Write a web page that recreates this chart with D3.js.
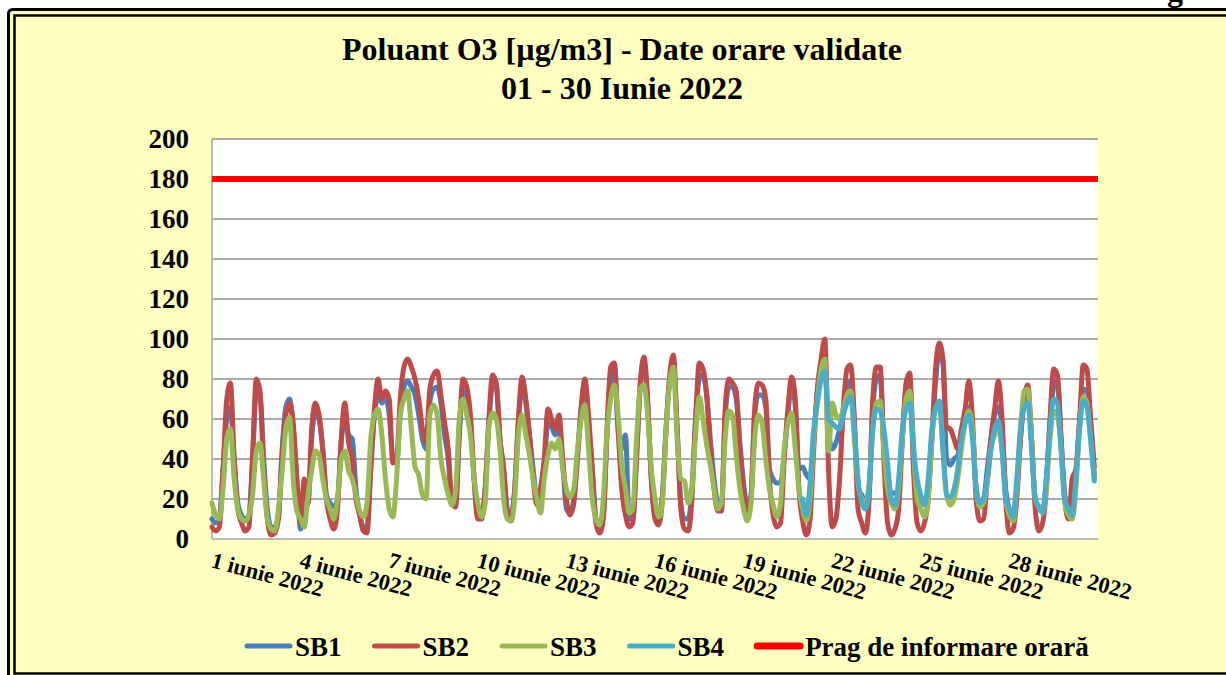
<!DOCTYPE html>
<html>
<head>
<meta charset="UTF-8">
<title>Poluant O3 - Iunie 2022</title>
<script src="https://cdn.jsdelivr.net/npm/d3@7" type="text/javascript" charset="utf-8"></script>
<style>
  body { margin: 0; background: #fff; }
  text { font-family: "Liberation Serif", "Times New Roman", serif; font-weight: bold; }
</style>
</head>
<body>
<div id="chart"></div>
<script type="text/javascript">
// ---- data (one value every 3 hours, 8 per day: 00,03,...,21) ----
var monthStart = Date.UTC(2022, 5, 1);
var monthEnd = Date.UTC(2022, 6, 1);
var stepHours = 3;

var sb1 = [
  10, 8, 10, 35, 60, 66, 40, 18,   12, 10, 12, 40, 74, 72, 40, 15,   6, 6, 12, 45, 66, 70, 55, 28,
  5, 15, 18, 50, 64, 60, 45, 22,   18, 16, 20, 48, 62, 52, 50, 25,   12, 6, 6, 35, 62, 72, 68, 70,
  62, 40, 38, 62, 76, 79, 76, 72,  62, 50, 45, 68, 75, 76, 68, 52,   40, 18, 18, 52, 74, 72, 58, 30,
  12, 12, 25, 58, 76, 76, 50, 35,  15, 12, 25, 58, 76, 68, 52, 35,   20, 25, 38, 58, 56, 52, 56, 38,
  15, 13, 20, 42, 66, 78, 58, 35,  10, 6, 12, 52, 80, 86, 55, 45,    52, 10, 10, 42, 76, 88, 68, 30,
  12, 10, 22, 55, 80, 86, 55, 18,  10, 10, 25, 60, 80, 82, 72, 50,   30, 18, 16, 60, 76, 76, 70, 48,
  28, 16, 22, 62, 72, 72, 66, 35,  30, 28, 28, 42, 62, 78, 66, 35,   36, 32, 30, 50, 75, 88, 92, 55,
  45, 48, 55, 65, 76, 79, 58, 25,  22, 18, 25, 65, 80, 82, 45, 25,   23, 23, 25, 50, 74, 78, 48, 20,
  18, 18, 25, 50, 78, 94, 88, 40,  37, 40, 42, 50, 60, 66, 55, 25,   18, 20, 35, 50, 62, 66, 55, 25,
  15, 12, 25, 50, 68, 72, 50, 20,  16, 14, 30, 58, 76, 79, 50, 22,   14, 14, 30, 58, 75, 74, 58, 32
];
var sb2 = [
  6, 4, 6, 35, 70, 78, 40, 15,     8, 4, 6, 42, 80, 74, 35, 10,     2, 3, 10, 42, 62, 68, 58, 30,
  8, 30, 18, 55, 68, 62, 45, 20,   10, 5, 15, 50, 68, 48, 40, 20,   12, 4, 3, 35, 65, 80, 70, 74,
  70, 38, 40, 70, 86, 90, 86, 80,  70, 55, 48, 75, 82, 84, 72, 58,  45, 18, 16, 55, 80, 76, 62, 30,
  10, 10, 25, 60, 82, 78, 50, 35,  12, 9, 25, 60, 81, 70, 52, 30,   17, 25, 40, 65, 60, 55, 62, 40,
  20, 12, 18, 40, 65, 80, 62, 35,  8, 3, 10, 55, 86, 88, 55, 25,    12, 6, 8, 40, 78, 91, 70, 30,
  10, 7, 20, 55, 82, 92, 55, 15,   5, 4, 20, 60, 88, 85, 72, 45,    25, 14, 14, 65, 80, 78, 74, 45,
  25, 12, 20, 65, 78, 77, 70, 30,  12, 6, 8, 40, 65, 81, 70, 25,    9, 2, 10, 45, 75, 90, 100, 35,
  6, 10, 30, 65, 85, 87, 60, 15,   8, 3, 20, 70, 86, 86, 40, 8,     2, 5, 15, 50, 78, 83, 35, 8,
  4, 8, 20, 50, 85, 98, 90, 56,    55, 50, 45, 55, 65, 79, 60, 20,  9, 10, 30, 50, 65, 79, 60, 20,
  3, 5, 20, 50, 70, 77, 50, 15,    4, 8, 25, 60, 85, 82, 50, 20,    10, 30, 35, 60, 87, 85, 60, 36
];
var sb3 = [
  18, 12, 10, 25, 50, 55, 30, 15,  10, 9, 12, 22, 44, 48, 30, 10,   5, 4, 15, 34, 55, 61, 30, 14,
  10, 6, 22, 34, 44, 42, 30, 20,   15, 10, 20, 40, 44, 34, 30, 22,  14, 11, 18, 50, 62, 65, 52, 30,
  15, 11, 30, 62, 70, 74, 55, 36,  32, 22, 20, 62, 67, 62, 40, 30,  22, 17, 25, 60, 70, 62, 52, 30,
  18, 11, 18, 56, 63, 60, 45, 20,  10, 9, 20, 52, 62, 52, 42, 30,   20, 13, 30, 42, 48, 45, 50, 35,
  25, 21, 25, 45, 60, 67, 45, 20,  10, 7, 20, 54, 70, 77, 62, 37,   25, 13, 15, 50, 75, 77, 62, 35,
  20, 11, 18, 55, 78, 86, 50, 30,  29, 18, 25, 52, 71, 60, 47, 37,  25, 15, 18, 50, 64, 62, 42, 25,
  15, 9, 18, 50, 62, 58, 40, 25,   17, 11, 18, 45, 58, 63, 45, 25,  15, 9, 20, 50, 70, 85, 90, 44,
  68, 62, 60, 65, 72, 74, 50, 28,  20, 18, 28, 55, 68, 69, 45, 25,  18, 15, 25, 50, 70, 74, 45, 20,
  15, 11, 20, 50, 65, 68, 45, 22,  17, 20, 30, 45, 58, 64, 55, 25,  16, 18, 28, 45, 52, 55, 45, 20,
  12, 9, 25, 55, 74, 75, 50, 20,   16, 13, 25, 50, 64, 62, 45, 18,  12, 10, 25, 55, 71, 68, 50, 30
];
// SB4 has data only from 21 iunie
var sb4Start = Date.UTC(2022, 5, 21);
var sb4 = [
  20, 12, 28, 55, 68, 80, 84, 60,  58, 56, 55, 62, 68, 71, 55, 30,  18, 15, 25, 55, 65, 64, 55, 38,
  20, 17, 30, 55, 65, 68, 45, 30,  22, 17, 30, 55, 65, 69, 45, 22,  21, 25, 35, 50, 58, 62, 50, 25,
  18, 20, 30, 45, 55, 59, 45, 20,  15, 11, 30, 55, 66, 68, 45, 20,  16, 13, 30, 55, 70, 68, 45, 20,
  15, 12, 30, 55, 69, 66, 50, 29
];
var threshold = 180;

var seriesNames = ["SB1", "SB2", "SB3", "SB4"];
var seriesColors = ["#4A7EBB", "#BE4B48", "#98B954", "#4BACC6"];
var thresholdName = "Prag de informare orară";
var thresholdColor = "#FF0000";

var yTicks = [0, 20, 40, 60, 80, 100, 120, 140, 160, 180, 200];
var xTickDays = [1, 4, 7, 10, 13, 16, 19, 22, 25, 28];
var xTickLabels = ["1 iunie 2022", "4 iunie 2022", "7 iunie 2022", "10 iunie 2022", "13 iunie 2022",
                   "16 iunie 2022", "19 iunie 2022", "22 iunie 2022", "25 iunie 2022", "28 iunie 2022"];
var titleLines = ["Poluant O3 [µg/m3] - Date orare validate", "01 - 30 Iunie 2022"];

// ---- drawing ----
var width = 1226, height = 675;
var plot = {left: 212, top: 139, right: 1098, bottom: 539};

var svg = d3.select("#chart").append("svg")
  .attr("width", width)
  .attr("height", height);

svg.append("rect").attr("width", width).attr("height", height).attr("fill", "#fff");

// text above the frame, cut off by the page edge as in the source
svg.append("text")
  .attr("x", 1167).attr("y", 1)
  .attr("font-size", "32px")
  .text("g");

// double frame
svg.append("rect")
  .attr("x", 8.5).attr("y", 9.5)
  .attr("width", 1300).attr("height", 700)
  .attr("rx", 4)
  .attr("fill", "#FFFFC0")
  .attr("stroke", "#000")
  .attr("stroke-width", 3);
svg.append("rect")
  .attr("x", 14.5).attr("y", 15.5)
  .attr("width", 1300).attr("height", 658)
  .attr("fill", "none")
  .attr("stroke", "#000")
  .attr("stroke-width", 2.5);

// title
svg.selectAll("text.title")
  .data(titleLines)
  .enter().append("text")
  .attr("class", "title")
  .attr("x", 622)
  .attr("y", function(d, i){ return 60 + i * 39; })
  .attr("text-anchor", "middle")
  .attr("font-size", "32px")
  .text(function(d){ return d; });

var x = d3.scaleUtc().domain([monthStart, monthEnd]).range([plot.left, plot.right]);
var y = d3.scaleLinear().domain([0, 200]).range([plot.bottom, plot.top]);

// plot area
svg.append("rect")
  .attr("x", plot.left).attr("y", plot.top)
  .attr("width", plot.right - plot.left)
  .attr("height", plot.bottom - plot.top)
  .attr("fill", "#fff");

svg.append("g")
  .selectAll("line")
  .data(yTicks.filter(function(d){ return d > 0; }))
  .enter().append("line")
  .attr("x1", plot.left).attr("x2", plot.right)
  .attr("y1", function(d){ return y(d); })
  .attr("y2", function(d){ return y(d); })
  .attr("stroke", "#8E8E8E")
  .attr("stroke-width", 1.5);

// axes lines
svg.append("line")
  .attr("x1", plot.left).attr("x2", plot.left)
  .attr("y1", plot.top).attr("y2", plot.bottom)
  .attr("stroke", "#A6A6A6").attr("stroke-width", 1.5);
svg.append("line")
  .attr("x1", plot.left).attr("x2", plot.right)
  .attr("y1", plot.bottom).attr("y2", plot.bottom)
  .attr("stroke", "#A6A6A6").attr("stroke-width", 1.5);

// y labels
svg.append("g")
  .selectAll("text")
  .data(yTicks)
  .enter().append("text")
  .attr("x", 189)
  .attr("y", function(d){ return y(d); })
  .attr("dy", "0.35em")
  .attr("text-anchor", "end")
  .attr("font-size", "27px")
  .text(function(d){ return d; });

// x labels (rotated)
svg.append("g")
  .selectAll("text")
  .data(xTickDays)
  .enter().append("text")
  .attr("transform", function(d){
    var tx = x(Date.UTC(2022, 5, d)) - 2;
    return "translate(" + tx + ",567) rotate(15)";
  })
  .attr("font-size", "22.5px")
  .text(function(d, i){ return xTickLabels[i]; });

// series lines
function toPoints(values, start) {
  return values.map(function(v, i){
    return {t: start + i * stepHours * 3600 * 1000, v: v};
  });
}
var line = d3.line()
  .defined(function(d){ return d.v != null; })
  .x(function(d){ return x(d.t); })
  .y(function(d){ return y(d.v); })
  .curve(d3.curveMonotoneX);

var allSeries = [toPoints(sb1, monthStart), toPoints(sb2, monthStart), toPoints(sb3, monthStart), toPoints(sb4, sb4Start)];

svg.append("g")
  .selectAll("path")
  .data(allSeries)
  .enter().append("path")
  .attr("d", line)
  .attr("fill", "none")
  .attr("stroke", function(d, i){ return seriesColors[i]; })
  .attr("stroke-width", 5)
  .attr("stroke-linejoin", "round")
  .attr("stroke-linecap", "round");

// threshold
svg.append("line")
  .attr("x1", plot.left).attr("x2", plot.right)
  .attr("y1", y(threshold)).attr("y2", y(threshold))
  .attr("stroke", thresholdColor)
  .attr("stroke-width", 6);

// legend
var legendItems = seriesNames.map(function(n, i){ return {name: n, color: seriesColors[i], w: 5}; });
legendItems.push({name: thresholdName, color: thresholdColor, w: 7});
var lx = 245, ly = 646;
var legend = svg.append("g");
legendItems.forEach(function(item){
  legend.append("line")
    .attr("x1", lx + 2).attr("x2", lx + 45)
    .attr("y1", ly).attr("y2", ly)
    .attr("stroke", item.color)
    .attr("stroke-width", item.w)
    .attr("stroke-linecap", "round");
  var t = legend.append("text")
    .attr("x", lx + 50)
    .attr("y", ly + 10)
    .attr("font-size", "27px")
    .text(item.name);
  lx = lx + 50 + t.node().getComputedTextLength() + 31;
});
</script>
</body>
</html>
